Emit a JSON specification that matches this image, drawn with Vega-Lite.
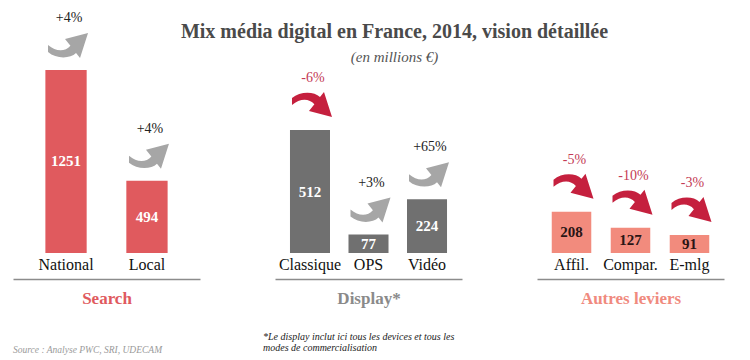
{
  "$schema": "https://vega.github.io/schema/vega-lite/v6.json",
  "background": "white",
  "padding": {"left": 13, "top": 3, "right": 5, "bottom": 2},
  "autosize": {"type": "pad"},
  "config": {"view": {"stroke": null}, "font": "Liberation Serif", "axis": {"grid": false}},
  "title": {
    "text": "Mix média digital en France, 2014, vision détaillée",
    "subtitle": "(en millions €)",
    "anchor": "middle",
    "offset": -62,
    "dx": 26,
    "font": "Liberation Serif",
    "fontSize": 20,
    "fontWeight": "bold",
    "color": "#4a4a4a",
    "subtitleFont": "Liberation Serif",
    "subtitleFontSize": 15,
    "subtitleFontStyle": "italic",
    "subtitleColor": "#555555",
    "subtitlePadding": 8
  },
  "datasets": {
    "bars": [
      {"grp": "Search", "cat": "National", "value": 1251, "change": "+4%", "dir": "up"},
      {"grp": "Search", "cat": "Local", "value": 494, "change": "+4%", "dir": "up"},
      {"grp": "Display", "cat": "Classique", "value": 512, "change": "-6%", "dir": "down"},
      {"grp": "Display", "cat": "OPS", "value": 77, "change": "+3%", "dir": "up"},
      {"grp": "Display", "cat": "Vidéo", "value": 224, "change": "+65%", "dir": "up"},
      {"grp": "Autres", "cat": "Affil.", "value": 208, "change": "-5%", "dir": "down"},
      {"grp": "Autres", "cat": "Compar.", "value": 127, "change": "-10%", "dir": "down"},
      {"grp": "Autres", "cat": "E-mlg", "value": 91, "change": "-3%", "dir": "down"}
    ]
  },
  "spacing": 75,
  "bounds": "flush",
  "hconcat": [
    {
      "width": 187,
      "height": 250,
      "data": {"name": "bars"},
      "transform": [{"filter": "datum.grp === 'Search'"}],
      "title": {"text": "Source : Analyse PWC, SRI, UDECAM", "orient": "bottom", "anchor": "start", "frame": "group", "offset": 39, "font": "Liberation Serif", "fontSize": 9.5, "fontStyle": "italic", "fontWeight": "normal", "color": "#9a9a9a"},
      "encoding": {
        "x": {"field": "cat", "type": "nominal", "sort": null,
          "scale": {"paddingInner": 0.49, "paddingOuter": 0.4},
          "axis": {"title": "Search", "orient": "bottom", "offset": 26, "domain": true, "domainColor": "#8c8c8c", "domainWidth": 1.5, "ticks": false, "tickSize": 0, "labelPadding": -23, "labelAngle": 0, "labelFont": "Liberation Serif", "labelFontSize": 16, "labelColor": "#111111", "titleFont": "Liberation Serif", "titleFontSize": 17, "titleFontWeight": "bold", "titleColor": "#E05A5E", "titlePadding": 11}}
      },
      "layer": [
        {"mark": {"type": "bar", "color": "#E05A5E"},
         "encoding": {"y": {"field": "value", "type": "quantitative", "scale": {"domain": [0, 1709], "nice": false}, "axis": null}}},
        {"mark": {"type": "text", "color": "white", "font": "Liberation Serif", "fontWeight": "bold", "fontSize": 15, "baseline": "middle"},
         "encoding": {"y": {"field": "value", "type": "quantitative", "scale": {"domain": [0, 3418], "nice": false}, "axis": null}, "text": {"field": "value", "type": "nominal"}}},
        {"mark": {"type": "point", "filled": true, "size": 1600, "opacity": 1, "strokeWidth": 0, "yOffset": -25, "xOffset": 2},
         "encoding": {"y": {"field": "value", "type": "quantitative", "scale": {"domain": [0, 1709], "nice": false}, "axis": null},
           "shape": {"field": "dir", "type": "nominal", "scale": {"domain": ["up", "down"], "range": ["M -1 0.35 C -0.6 0.7 0.1 0.7 0.4 0.4 L 0.6 0.65 L 1 -0.6 L -0.15 -0.3 L 0.12 0.04 C -0.15 0.35 -0.6 0.35 -1 0 Z", "M -1 -0.35 C -0.6 -0.7 0.1 -0.7 0.4 -0.4 L 0.6 -0.65 L 1 0.6 L -0.15 0.3 L 0.12 -0.04 C -0.15 -0.35 -0.6 -0.35 -1 0 Z"]}, "legend": null},
           "color": {"field": "dir", "type": "nominal", "scale": {"domain": ["up", "down"], "range": ["#A6A6A6", "#C5203E"]}, "legend": null}}},
        {"mark": {"type": "text", "dy": -52, "font": "Liberation Serif", "fontSize": 14, "baseline": "middle", "xOffset": 3},
         "encoding": {"y": {"field": "value", "type": "quantitative", "scale": {"domain": [0, 1709], "nice": false}, "axis": null},
           "text": {"field": "change", "type": "nominal"},
           "color": {"field": "dir", "type": "nominal", "scale": {"domain": ["up", "down"], "range": ["#222222", "#C43A55"]}, "legend": null}}}
      ],
      "resolve": {"scale": {"y": "independent", "color": "independent"}}
    },
    {
      "width": 187,
      "height": 250,
      "data": {"name": "bars"},
      "transform": [{"filter": "datum.grp === 'Display'"}],
      "title": {"text": ["*Le display inclut ici tous les devices et tous les", "modes de commercialisation"], "orient": "bottom", "anchor": "start", "frame": "group", "offset": 26, "dx": -12, "font": "Liberation Serif", "fontSize": 10, "lineHeight": 11, "fontStyle": "italic", "fontWeight": "normal", "color": "#222222"},
      "encoding": {
        "x": {"field": "cat", "type": "nominal", "sort": null,
          "scale": {"paddingInner": 0.316, "paddingOuter": 0.256},
          "axis": {"title": "Display*", "orient": "bottom", "offset": 26, "domain": true, "domainColor": "#8c8c8c", "domainWidth": 1.5, "ticks": false, "tickSize": 0, "labelPadding": -23, "labelAngle": 0, "labelFont": "Liberation Serif", "labelFontSize": 16, "labelColor": "#111111", "titleFont": "Liberation Serif", "titleFontSize": 17, "titleFontWeight": "bold", "titleColor": "#8A8A8A", "titlePadding": 11}}
      },
      "layer": [
        {"mark": {"type": "bar", "color": "#707070"},
         "encoding": {"y": {"field": "value", "type": "quantitative", "scale": {"domain": [0, 1041], "nice": false}, "axis": null}}},
        {"mark": {"type": "text", "color": "white", "font": "Liberation Serif", "fontWeight": "bold", "fontSize": 15, "baseline": "middle"},
         "encoding": {"y": {"field": "value", "type": "quantitative", "scale": {"domain": [0, 2082], "nice": false}, "axis": null}, "text": {"field": "value", "type": "nominal"}}},
        {"mark": {"type": "point", "filled": true, "size": 1600, "opacity": 1, "strokeWidth": 0, "yOffset": -25, "xOffset": 2},
         "encoding": {"y": {"field": "value", "type": "quantitative", "scale": {"domain": [0, 1041], "nice": false}, "axis": null},
           "shape": {"field": "dir", "type": "nominal", "scale": {"domain": ["up", "down"], "range": ["M -1 0.35 C -0.6 0.7 0.1 0.7 0.4 0.4 L 0.6 0.65 L 1 -0.6 L -0.15 -0.3 L 0.12 0.04 C -0.15 0.35 -0.6 0.35 -1 0 Z", "M -1 -0.35 C -0.6 -0.7 0.1 -0.7 0.4 -0.4 L 0.6 -0.65 L 1 0.6 L -0.15 0.3 L 0.12 -0.04 C -0.15 -0.35 -0.6 -0.35 -1 0 Z"]}, "legend": null},
           "color": {"field": "dir", "type": "nominal", "scale": {"domain": ["up", "down"], "range": ["#A6A6A6", "#C5203E"]}, "legend": null}}},
        {"mark": {"type": "text", "dy": -52, "font": "Liberation Serif", "fontSize": 14, "baseline": "middle", "xOffset": 3},
         "encoding": {"y": {"field": "value", "type": "quantitative", "scale": {"domain": [0, 1041], "nice": false}, "axis": null},
           "text": {"field": "change", "type": "nominal"},
           "color": {"field": "dir", "type": "nominal", "scale": {"domain": ["up", "down"], "range": ["#222222", "#C43A55"]}, "legend": null}}}
      ],
      "resolve": {"scale": {"y": "independent", "color": "independent"}}
    },
    {
      "width": 187,
      "height": 250,
      "data": {"name": "bars"},
      "transform": [{"filter": "datum.grp === 'Autres'"}],
      "encoding": {
        "x": {"field": "cat", "type": "nominal", "sort": null,
          "scale": {"paddingInner": 0.33, "paddingOuter": 0.25},
          "axis": {"title": "Autres leviers", "orient": "bottom", "offset": 26, "domain": true, "domainColor": "#8c8c8c", "domainWidth": 1.5, "ticks": false, "tickSize": 0, "labelPadding": -23, "labelAngle": 0, "labelFont": "Liberation Serif", "labelFontSize": 16, "labelColor": "#111111", "titleFont": "Liberation Serif", "titleFontSize": 17, "titleFontWeight": "bold", "titleColor": "#F08A7E", "titlePadding": 11}}
      },
      "layer": [
        {"mark": {"type": "bar", "color": "#F28B7D"},
         "encoding": {"y": {"field": "value", "type": "quantitative", "scale": {"domain": [0, 1260], "nice": false}, "axis": null}}},
        {"mark": {"type": "text", "color": "#2a1515", "font": "Liberation Serif", "fontWeight": "bold", "fontSize": 15, "baseline": "middle"},
         "encoding": {"y": {"field": "value", "type": "quantitative", "scale": {"domain": [0, 2520], "nice": false}, "axis": null}, "text": {"field": "value", "type": "nominal"}}},
        {"mark": {"type": "point", "filled": true, "size": 1600, "opacity": 1, "strokeWidth": 0, "yOffset": -25, "xOffset": 2},
         "encoding": {"y": {"field": "value", "type": "quantitative", "scale": {"domain": [0, 1260], "nice": false}, "axis": null},
           "shape": {"field": "dir", "type": "nominal", "scale": {"domain": ["up", "down"], "range": ["M -1 0.35 C -0.6 0.7 0.1 0.7 0.4 0.4 L 0.6 0.65 L 1 -0.6 L -0.15 -0.3 L 0.12 0.04 C -0.15 0.35 -0.6 0.35 -1 0 Z", "M -1 -0.35 C -0.6 -0.7 0.1 -0.7 0.4 -0.4 L 0.6 -0.65 L 1 0.6 L -0.15 0.3 L 0.12 -0.04 C -0.15 -0.35 -0.6 -0.35 -1 0 Z"]}, "legend": null},
           "color": {"field": "dir", "type": "nominal", "scale": {"domain": ["up", "down"], "range": ["#A6A6A6", "#C5203E"]}, "legend": null}}},
        {"mark": {"type": "text", "dy": -52, "font": "Liberation Serif", "fontSize": 14, "baseline": "middle", "xOffset": 3},
         "encoding": {"y": {"field": "value", "type": "quantitative", "scale": {"domain": [0, 1260], "nice": false}, "axis": null},
           "text": {"field": "change", "type": "nominal"},
           "color": {"field": "dir", "type": "nominal", "scale": {"domain": ["up", "down"], "range": ["#222222", "#C43A55"]}, "legend": null}}}
      ],
      "resolve": {"scale": {"y": "independent", "color": "independent"}}
    }
  ]
}
